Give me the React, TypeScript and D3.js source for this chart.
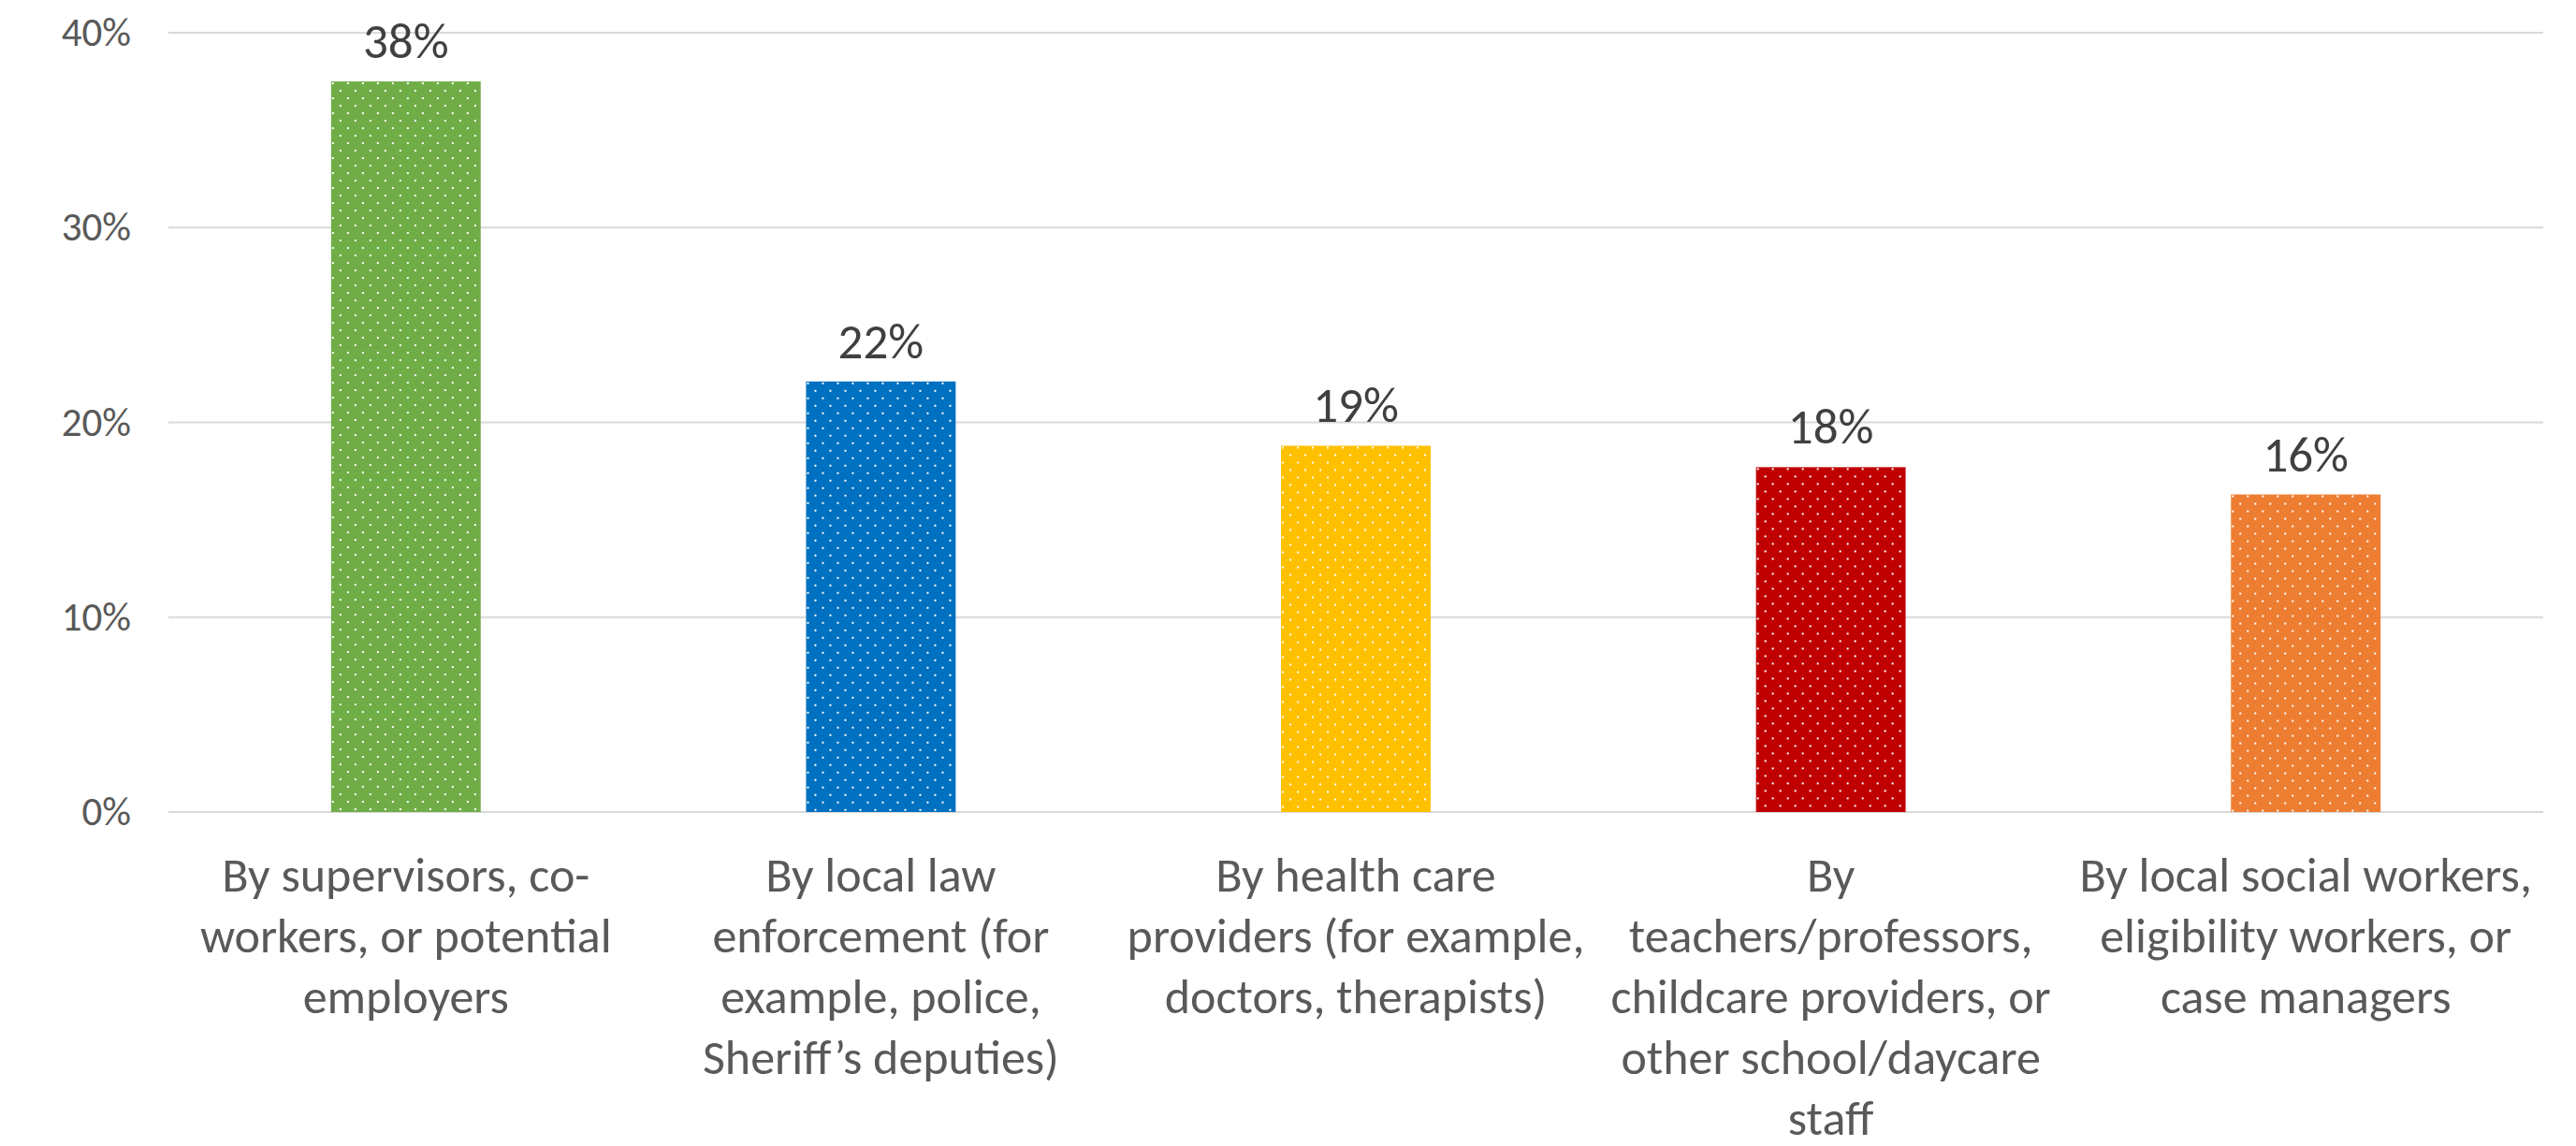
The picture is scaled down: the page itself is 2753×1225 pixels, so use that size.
import * as d3 from "d3";

const WIDTH = 2753;
const HEIGHT = 1225;

const categories = [
  "supervisors",
  "law",
  "health",
  "teachers",
  "social",
];
const categoryLines = [
  ["By supervisors, co-", "workers, or potential", "employers"],
  ["By local law", "enforcement (for", "example, police,", "Sheriff\u2019s deputies)"],
  ["By health care", "providers (for example,", "doctors, therapists)"],
  ["By", "teachers/professors,", "childcare providers, or", "other school/daycare", "staff"],
  ["By local social workers,", "eligibility workers, or", "case managers"],
];
const values = [0.375, 0.221, 0.188, 0.177, 0.163];
const dataLabels = ["38%", "22%", "19%", "18%", "16%"];
const barColors = ["#70AD47", "#0070C0", "#FFC000", "#C00000", "#ED7D31"];
const yTicks = [0, 0.1, 0.2, 0.3, 0.4];

const FONT = "Calibri, Carlito, 'Liberation Sans Narrow', 'Open Sans', sans-serif";

export default function App() {
  const x = d3
    .scaleBand<string>()
    .domain(categories)
    .range([180, 2718])
    .paddingInner(0.685)
    .paddingOuter(0.3425);
  const y = d3.scaleLinear().domain([0, 0.4]).range([868, 35]);
  const fmt = d3.format(".0%");

  return (
    <svg
      width={WIDTH}
      height={HEIGHT}
      style={{ position: "absolute", left: 0, top: 0, background: "#fff" }}
      fontFamily={FONT}
    >
      <defs>
        {categories.map((c, i) => (
          <pattern
            key={c}
            id={`dots-${i}`}
            patternUnits="userSpaceOnUse"
            x={x(c)}
            y={y(values[i])}
            width={16}
            height={16}
          >
            <rect width={16} height={16} fill={barColors[i]} />
            <rect x={1} y={1} width={2} height={2} fill="#fff" />
            <rect x={9} y={9} width={2} height={2} fill="#fff" />
          </pattern>
        ))}
      </defs>

      {/* gridlines + y labels */}
      {yTicks.map((t) => (
        <g key={t}>
          <line x1={180} x2={2718} y1={y(t)} y2={y(t)} stroke="#d9d9d9" strokeWidth={2} />
          <text x={140} y={y(t) + 14} textAnchor="end" fontSize={43} fill="#595959">
            {fmt(t)}
          </text>
        </g>
      ))}

      {/* bars */}
      {categories.map((c, i) => (
        <g key={c}>
          <rect
            x={x(c)}
            y={y(values[i])}
            width={x.bandwidth()}
            height={y(0) - y(values[i])}
            fill={`url(#dots-${i})`}
          />
          <text
            x={(x(c) ?? 0) + x.bandwidth() / 2}
            y={y(values[i]) - 25}
            textAnchor="middle"
            fontSize={53}
            fill="#404040"
          >
            {dataLabels[i]}
          </text>
        </g>
      ))}

      {/* category labels */}
      {categories.map((c, i) => (
        <text
          key={c}
          x={(x(c) ?? 0) + x.bandwidth() / 2}
          textAnchor="middle"
          fontSize={52}
          fill="#595959"
        >
          {categoryLines[i].map((line, j) => (
            <tspan key={j} x={(x(c) ?? 0) + x.bandwidth() / 2} y={953 + j * 65}>
              {line}
            </tspan>
          ))}
        </text>
      ))}
    </svg>
  );
}
